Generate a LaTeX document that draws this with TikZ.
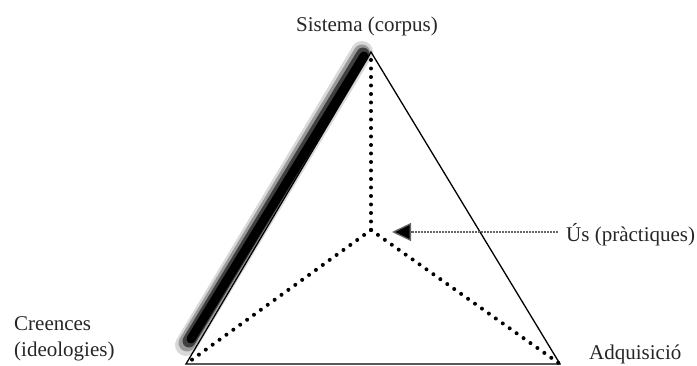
\documentclass[tikz,border=0pt]{standalone}
\usepackage{fontspec}
\setmainfont{Liberation Serif}
\usetikzlibrary{arrows.meta}
\begin{document}
\begin{tikzpicture}[x=1pt,y=-1pt,
  lbl/.style={font=\fontsize{21}{26}\selectfont, text=black!85, inner sep=0pt},
  edge/.style={line width=1.3pt, black},
  dots/.style={line width=4pt, line cap=round, dash pattern=on 0pt off 8.5pt, black},
  shade/.style={line cap=round}
]
\useasboundingbox (0,0) rectangle (697,366);
\coordinate (A) at (371,52);
\coordinate (B) at (186,364);
\coordinate (C) at (560,364);
\coordinate (O) at (371,230);
% shadow on left edge
\draw[shade, line width=22pt, black!15] (362,52) -- (186,345);
\draw[shade, line width=17pt, black!40] (362,53) -- (187,343);
\draw[shade, line width=13pt, black!75] (363,54) -- (189,341);
\draw[shade, line width=9pt, black] (364,56) -- (191,339);
% triangle
\draw[edge] (A) -- (B) -- (C) -- cycle;
% dotted internal lines
\draw[dots] (O) -- (A);
\draw[dots] (O) -- (B);
\draw[dots] (O) -- (C);
% labels
\node[lbl, anchor=south] (sis) at (367,36) {Sistema (corpus)};
\node[lbl, anchor=west, align=left] (cre) at (14,339) {Creences\\(ideologies)};
\node[lbl, anchor=base west] (adq) at (589,360) {Adquisició};
\node[lbl, anchor=west] (us) at (566,235) {Ús (pràctiques)};
\coordinate (tip) at (392,232);
\draw[line width=1.3pt, black!60, dash pattern=on 2pt off 1pt, -{Triangle[length=19pt,width=18pt,fill=black]}] (us.west) ++(-8,-3) coordinate (ustail) (ustail) -- (tip);
\end{tikzpicture}
\end{document}
